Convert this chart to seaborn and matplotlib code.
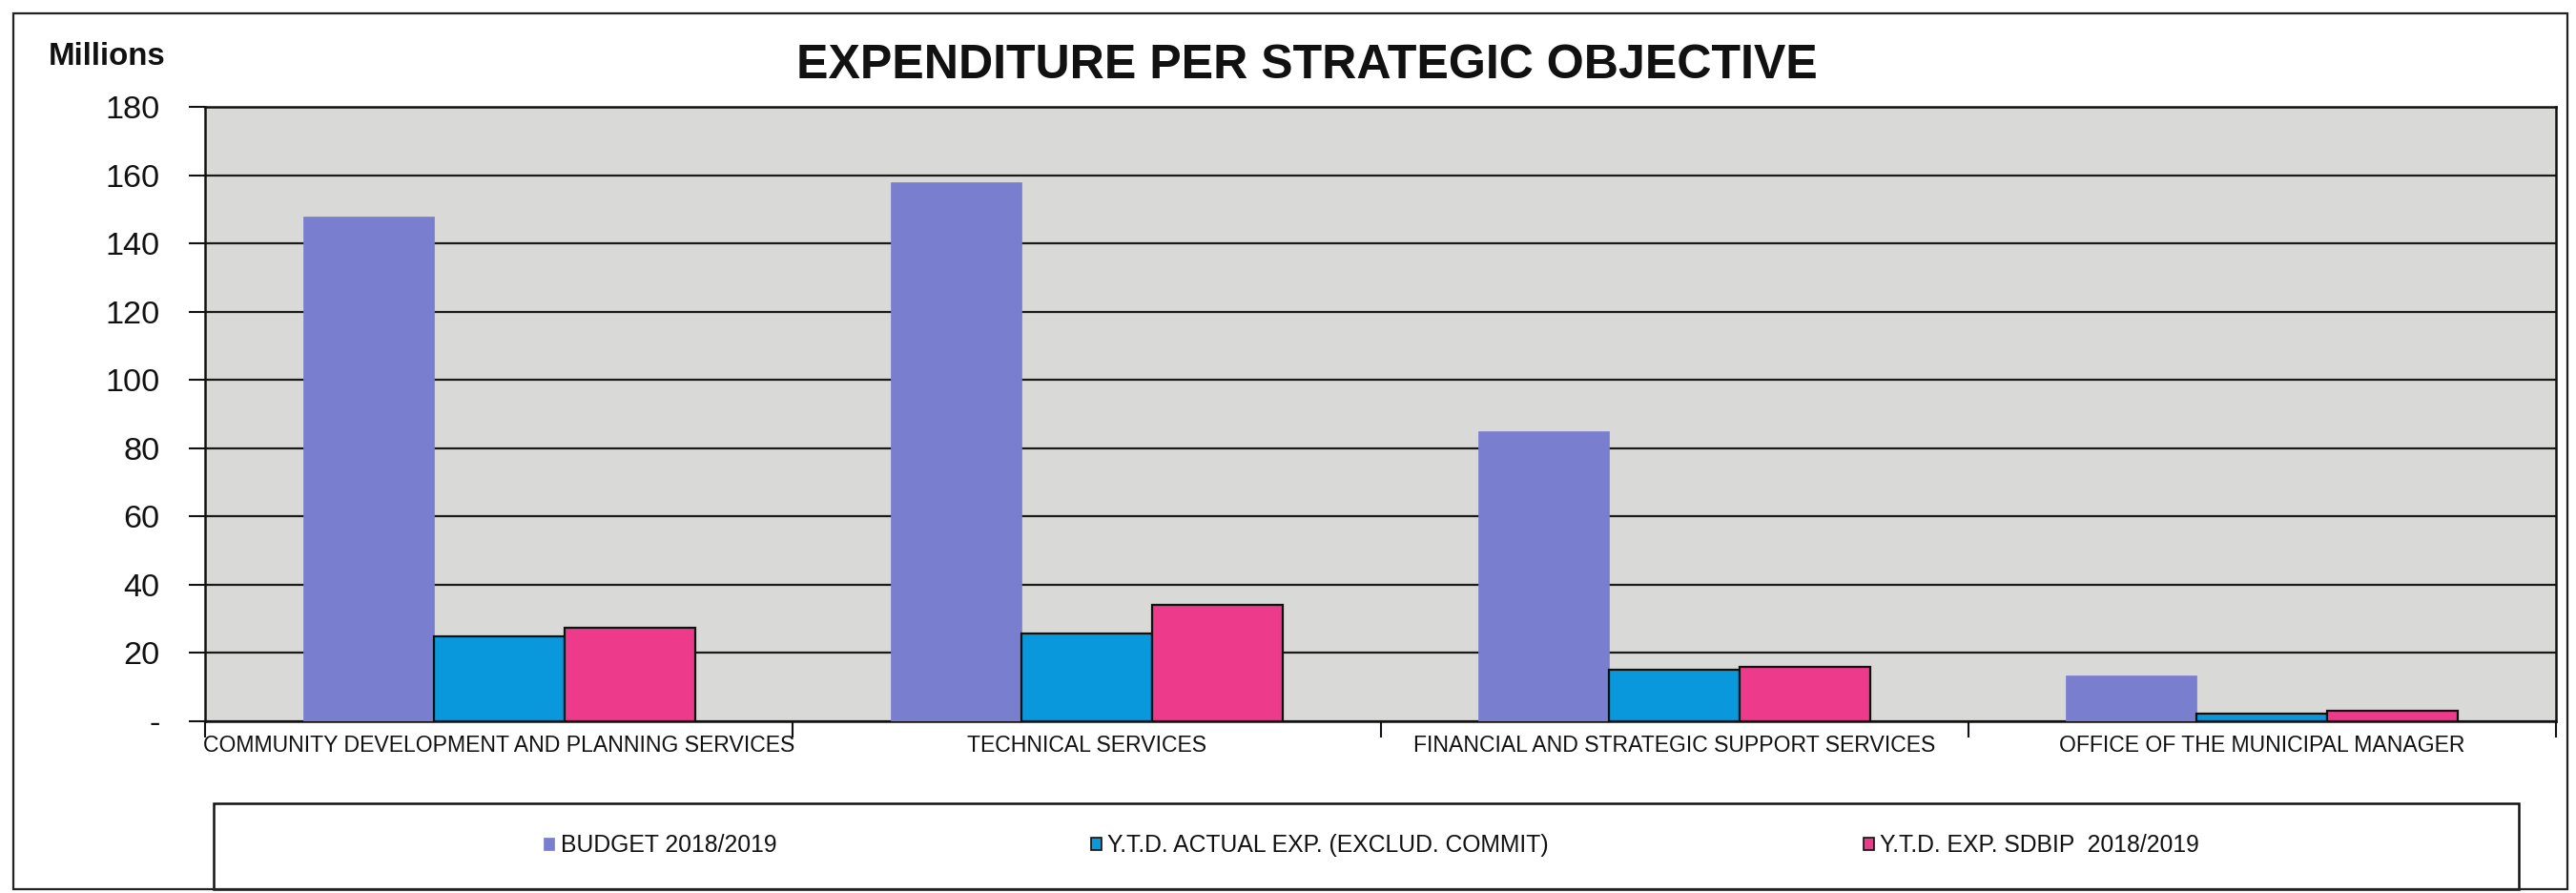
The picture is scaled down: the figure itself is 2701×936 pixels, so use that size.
import matplotlib
matplotlib.use("Agg")
import matplotlib.pyplot as plt
from matplotlib import font_manager
from matplotlib.patches import Rectangle, Patch
from matplotlib.ticker import FuncFormatter, FixedLocator
import seaborn as sns
import pandas as pd

# ---------------- data ----------------
categories = [
    "COMMUNITY DEVELOPMENT AND PLANNING SERVICES",
    "TECHNICAL SERVICES",
    "FINANCIAL AND STRATEGIC SUPPORT SERVICES",
    "OFFICE OF THE MUNICIPAL MANAGER",
]
series = [
    "BUDGET 2018/2019",
    "Y.T.D. ACTUAL EXP. (EXCLUD. COMMIT)",
    "Y.T.D. EXP. SDBIP  2018/2019",
]
budget = [147.8, 157.9, 85.0, 13.4]
ytd_actual = [25.0, 25.8, 15.0, 2.3]
ytd_sdbip = [27.3, 34.0, 16.0, 3.0]
y_ticks = [0, 20, 40, 60, 80, 100, 120, 140, 160, 180]

colors = ["#7A7ECF", "#0A98DC", "#EE3A8A"]

# ---------------- fonts ----------------
sns.set_theme(style="white")
available = {f.name for f in font_manager.fontManager.ttflist}
if "Liberation Sans Narrow" in available:
    FONT = "Liberation Sans Narrow"
    k = 1.0
else:
    FONT = "Liberation Sans"
    k = 0.85
plt.rcParams["font.family"] = [FONT, "DejaVu Sans"]

df = pd.DataFrame({
    "category": categories * 3,
    "series": [series[0]] * 4 + [series[1]] * 4 + [series[2]] * 4,
    "value": budget + ytd_actual + ytd_sdbip,
})

W, H = 2701, 936
fig = plt.figure(figsize=(W / 100, H / 100), dpi=100)
fig.patch.set_facecolor("white")

ax_l, ax_r, ax_t, ax_b = 215, 2680, 112, 756
ax = fig.add_axes([ax_l / W, 1 - ax_b / H, (ax_r - ax_l) / W, (ax_b - ax_t) / H])
ax.set_facecolor("#D9D9D7")

sns.barplot(data=df, x="category", y="value", hue="series",
            order=categories, hue_order=series, palette=colors,
            width=0.667, gap=0, ax=ax, legend=False, saturation=1)

for i, cont in enumerate(ax.containers):
    for bar in cont:
        if i == 0:
            bar.set_edgecolor(colors[0])
            bar.set_linewidth(0.5)
        else:
            bar.set_edgecolor("#111111")
            bar.set_linewidth(1.6)
        bar.set_zorder(3)

ax.set_ylim(0, 180)
ax.set_xlim(-0.5, 3.5)
ax.yaxis.set_major_locator(FixedLocator(y_ticks))
ax.yaxis.set_major_formatter(FuncFormatter(lambda v, p: "-" if v == 0 else f"{int(v)}"))
ax.grid(axis="y", color="#1a1a1a", linewidth=1.6, zorder=1)
ax.set_axisbelow(True)
ax.grid(axis="x", visible=False)

ax.set_xlabel("")
ax.set_ylabel("")
ax.tick_params(axis="y", which="major", left=True, length=12, width=1.5,
               color="#111111", pad=22, labelsize=29 * k, labelcolor="#111111")
ax.tick_params(axis="x", which="major", bottom=False, length=0, pad=10,
               labelsize=19.5 * k, labelcolor="#111111")
ax.set_xticks([-0.5, 0.5, 1.5, 2.5, 3.5], minor=True)
ax.tick_params(axis="x", which="minor", bottom=True, length=12, width=1.5,
               color="#111111", direction="out")

for s in ax.spines.values():
    s.set_visible(True)
    s.set_color("#111111")
    s.set_linewidth(1.8)

# ---------------- title & unit ----------------
fig.text(1370 / W, 1 - 69 / H, "EXPENDITURE PER STRATEGIC OBJECTIVE",
         ha="center", va="center", fontsize=42.5 * k, fontweight="bold",
         color="#111111")
fig.text(112 / W, 1 - 60 / H, "Millions", ha="center", va="center",
         fontsize=28 * k, fontweight="bold", color="#111111")

# ---------------- legend ----------------
handles = [Patch(facecolor=colors[0], edgecolor=colors[0], linewidth=0.5),
           Patch(facecolor=colors[1], edgecolor="#111111", linewidth=1.2),
           Patch(facecolor=colors[2], edgecolor="#111111", linewidth=1.2)]
leg = fig.legend(handles, series, loc="center", bbox_to_anchor=(1438 / W, 50 / H),
                 ncol=3, frameon=False, fontsize=21 * k,
                 handlelength=0.45, handleheight=0.45, handletextpad=0.25,
                 columnspacing=13.3)
for t in leg.get_texts():
    t.set_color("#111111")

fig.add_artist(Rectangle((224 / W, 4 / H), (2641 - 224) / W, (932 - 842) / H,
                         transform=fig.transFigure, fill=False,
                         edgecolor="#111111", linewidth=1.8))
# outer chart frame
fig.add_artist(Rectangle((14 / W, 4 / H), (2692 - 14) / W, (932 - 14) / H,
                         transform=fig.transFigure, fill=False,
                         edgecolor="#222222", linewidth=1.6))

fig.savefig("out.png", dpi=100, facecolor="white")
